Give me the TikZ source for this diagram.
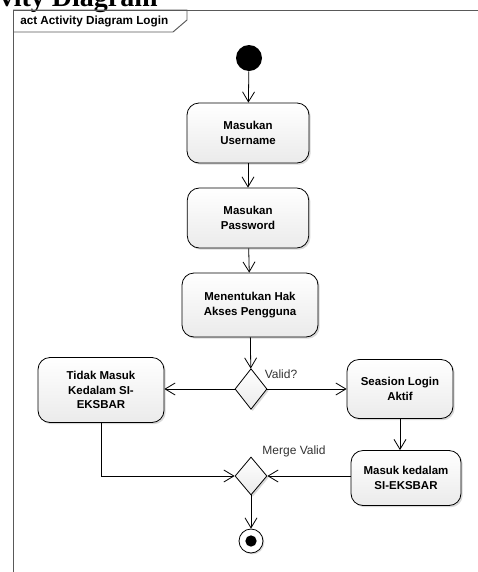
\documentclass[tikz,border=0pt]{standalone}
\usepackage{fontspec}
\newfontfamily\umlfont{Liberation Sans}
\newfontfamily\headfont{Liberation Serif}
\usetikzlibrary{arrows.meta,shapes.geometric,shadows}

\tikzset{
	action/.style={rectangle, rounded corners=9pt, draw, line width=0.6pt, top color=white, bottom color=gray!16,
		drop shadow={shadow xshift=1.3pt, shadow yshift=-1.3pt, fill=black!25, opacity=0.6},
		align=center, inner sep=2pt, font=\umlfont\bfseries\fontsize{8.6}{10.8}\selectfont},
	decision/.style={diamond, draw, line width=0.6pt, inner sep=0pt, top color=white, bottom color=gray!16,
		drop shadow={shadow xshift=1.3pt, shadow yshift=-1.3pt, fill=black!25, opacity=0.6}},
	flow/.style={draw, line width=0.6pt, -{Straight Barb[length=7.5pt,width=9pt]}},
	guard/.style={font=\umlfont\fontsize{9}{11}\selectfont, text=black!80, inner sep=0pt},
	frame/.style={draw=black!65, line width=0.7pt}
}

\begin{document}
\begin{tikzpicture}[x=0.75pt, y=-0.75pt]
			\useasboundingbox (0,0) rectangle (478,572);
			% Heading (cut off at the top)
			\node[anchor=base east, inner sep=0pt, font=\headfont\bfseries\fontsize{21}{25}\selectfont] (head) at (158,6) {Activity Diagram};
			% Frame
			\draw[frame] (478,10) -- (13,10) -- (13,572);
			\draw[frame] (13,10) -- (187,10) -- (187,20) -- (173,32) -- (13,32);
			\node[anchor=west, inner sep=0pt, font=\umlfont\bfseries\fontsize{8.8}{10}\selectfont] (title) at (20,21.5) {act Activity Diagram Login};
			% Nodes
			\node[circle, fill=black, minimum size=19.5pt, inner sep=0pt] (start) at (249,58) {};
			\node[action, minimum width=91.5pt, minimum height=45pt] (user) at (248,133) {Masukan\\Username};
			\node[action, minimum width=91pt, minimum height=45pt] (pass) at (248,218) {Masukan\\Password};
			\node[action, minimum width=102pt, minimum height=48pt] (hak) at (250,305) {Menentukan Hak\\Akses Pengguna};
			\node[decision, minimum width=24pt, minimum height=30.5pt] (valid) at (251,389) {};
			\node[action, minimum width=94.5pt, minimum height=48.75pt] (tidak) at (101,390) {Tidak Masuk\\Kedalam SI-\\EKSBAR};
			\node[action, minimum width=79.5pt, minimum height=44.25pt] (session) at (400,389) {Seasion Login\\Aktif};
			\node[action, minimum width=82.5pt, minimum height=41.25pt] (masuk) at (406,478) {Masuk kedalam\\SI-EKSBAR};
			\node[decision, minimum width=24pt, minimum height=28.5pt] (merge) at (251,476) {};
			\node[circle, draw, fill=white, line width=0.6pt, minimum size=18pt, inner sep=0pt,
				drop shadow={shadow xshift=1pt, shadow yshift=-1pt, fill=black!25, opacity=0.6}] (final) at (251,541) {};
			\node[circle, fill=black, minimum size=8.5pt, inner sep=0pt] (finaldot) at (final) {};
			\node[guard] (validlabel) at (281,374) {Valid?};
			\node[guard] (mergelabel) at (294,451) {Merge Valid};
			% Flows
			\foreach \a/\b in {start/user, user/pass, pass/hak, hak/valid, merge/final} {
				\draw[flow] (\a) -- (\b);
			}
			\draw[flow] (valid.west) -- (valid.west -| tidak.east);
			\draw[flow] (valid.east) -- (valid.east -| session.west);
			\draw[flow] (session.south) -- (session.south |- masuk.north);
			\draw[flow] (tidak.south) |- (merge.west);
			\draw[flow] (masuk.west |- merge.east) -- (merge.east);
		\end{tikzpicture}
\end{document}
